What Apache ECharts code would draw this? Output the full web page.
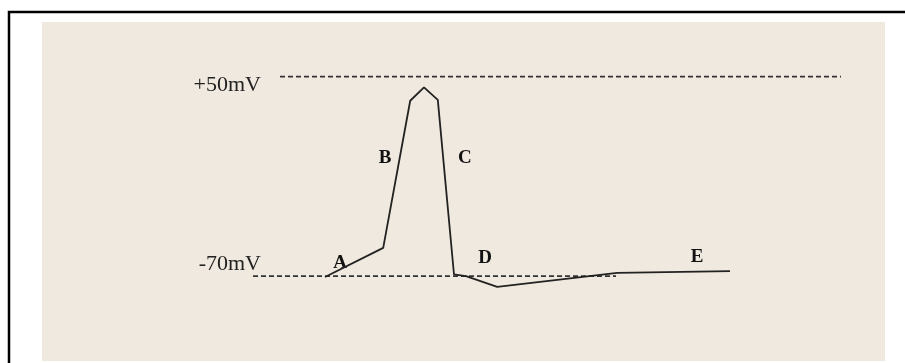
<!DOCTYPE html>
<html>
<head>
<meta charset="utf-8">
<title>Action potential</title>
<script src="https://cdn.jsdelivr.net/npm/echarts@6/dist/echarts.min.js"></script>
<style>
  html, body { margin: 0; padding: 0; background: #fff; }
  #chart { width: 905px; height: 363px; }
</style>
</head>
<body>
<div id="chart"></div>
<script>
// reference levels (mV) and their tick labels
const refLevels = [50, -70];
const refLabels = ['+50mV', '-70mV'];
// time span (ms, arbitrary units) covered by each dashed reference line
const upperRefTime = [6, 99.5];
const lowerRefTime = [1.5, 62];

// membrane potential trace
const timeMs = [13.5, 23.2, 27.7, 30, 32.3, 35, 37, 42.2, 62.2, 81];
const voltage = [-70.5, -53, 35.5, 43.5, 36, -69, -70, -76.5, -68, -67];

// phase letters
const phases = ['A', 'B', 'C', 'D', 'E'];
const phaseTime = [16, 23.5, 36.8, 40.2, 75.5];
const phaseVolt = [-62, 1, 1, -59, -58.5];

const ink = '#222222';
const serif = '"Liberation Serif", "DejaVu Serif", serif';

const chart = echarts.init(document.getElementById('chart'));

const option = {
  backgroundColor: '#ffffff',
  animation: false,
  graphic: [
    {
      type: 'rect', z: -10, silent: true,
      shape: { x: 42, y: 22, width: 843, height: 339 },
      style: { fill: '#f0e9df' }
    },
    {
      type: 'polyline', z: 100, silent: true,
      shape: { points: [[9, 363], [9, 12], [905, 12]] },
      style: { stroke: '#000', lineWidth: 2.5, fill: null }
    }
  ],
  grid: { left: 244, right: 61, top: 60, bottom: 37 },
  xAxis: {
    type: 'value', min: 0, max: 100,
    show: false
  },
  yAxis: {
    type: 'value', min: -100, max: 60, interval: 10,
    offset: -20,
    axisLine: { show: false },
    axisTick: { show: false },
    splitLine: { show: false },
    axisLabel: {
      margin: 3,
      color: ink,
      fontFamily: serif,
      fontSize: 22,
      formatter: function (v) {
        const i = refLevels.indexOf(v);
        if (i < 0) return '';
        return i === 0 ? '{up|' + refLabels[i] + '}' : '{dn|' + refLabels[i] + '}';
      },
      rich: {
        up: { fontFamily: serif, fontSize: 22, color: ink, padding: [17, 0, 0, 0] },
        dn: { fontFamily: serif, fontSize: 22, color: ink, padding: [0, 0, 24, 0] }
      }
    }
  },
  series: [
    {
      name: 'upper ref', type: 'line', symbol: 'none', silent: true,
      data: upperRefTime.map(t => [t, refLevels[0]]),
      lineStyle: { color: '#333', width: 1.7, type: [5, 3] }
    },
    {
      name: 'lower ref', type: 'line', symbol: 'none', silent: true,
      data: lowerRefTime.map(t => [t, refLevels[1]]),
      lineStyle: { color: '#333', width: 1.7, type: [5, 3] }
    },
    {
      name: 'potential', type: 'line', symbol: 'none', silent: true, z: 3,
      data: timeMs.map((t, i) => [t, voltage[i]]),
      lineStyle: { color: ink, width: 1.8 }
    },
    {
      name: 'phases', type: 'scatter', symbolSize: 0, silent: true,
      itemStyle: { opacity: 1 },
      data: phaseTime.map((t, i) => ({ name: phases[i], value: [t, phaseVolt[i]] })),
      label: {
        show: true, position: 'inside',
        formatter: '{b}',
        color: '#111',
        opacity: 1,
        fontFamily: serif,
        fontWeight: 'bold',
        fontSize: 19
      }
    }
  ]
};

chart.setOption(option);
</script>
</body>
</html>
